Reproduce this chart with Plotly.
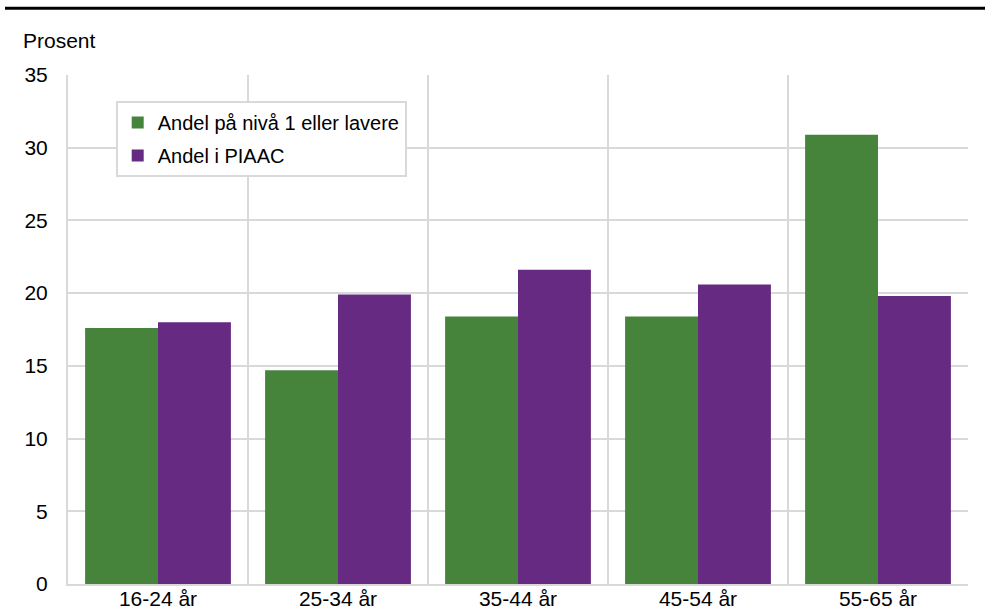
import plotly.graph_objects as go

# Age groups and shares (percent)
categories = ["16-24 år", "25-34 år", "35-44 år", "45-54 år", "55-65 år"]
level1_or_lower = [17.6, 14.7, 18.4, 18.4, 30.9]
piaac_share = [18.0, 19.9, 21.6, 20.6, 19.8]
y_ticks = [0, 5, 10, 15, 20, 25, 30, 35]

GREEN = "#46843c"
PURPLE = "#662a82"
GRID = "#d9d9d9"
FONT = "Liberation Sans, Arial, sans-serif"
FS = 21
FS_LEGEND = 20

x_pos = list(range(len(categories)))
boundaries = [i - 0.5 for i in range(len(categories) + 1)]

fig = go.Figure()
fig.add_trace(go.Bar(
    x=x_pos, y=level1_or_lower, name="Andel på nivå 1 eller lavere",
    marker=dict(color=GREEN, line=dict(width=0)), legendgroup="a",
))
fig.add_trace(go.Bar(
    x=x_pos, y=piaac_share, name="Andel i PIAAC",
    marker=dict(color=PURPLE, line=dict(width=0)), legendgroup="b",
))
# invisible trace carrying the category labels on the overlay axis
fig.add_trace(go.Scatter(x=x_pos, y=[0] * len(x_pos), xaxis="x2",
                         mode="markers", marker=dict(opacity=0),
                         showlegend=False, hoverinfo="skip"))

fig.update_layout(
    width=985, height=613,
    paper_bgcolor="white", plot_bgcolor="white",
    margin=dict(l=68, r=17, t=75, b=29),
    barmode="group", bargap=0.19, bargroupgap=0,
    font=dict(family=FONT, size=FS, color="#000000"),
    xaxis=dict(
        range=[-0.5, len(categories) - 0.5],
        tickvals=boundaries, ticktext=[""] * len(boundaries),
        showgrid=True, gridcolor=GRID, gridwidth=2,
        showline=True, linecolor=GRID, linewidth=2,
        ticks="", zeroline=False, automargin=False,
    ),
    xaxis2=dict(
        overlaying="x", matches="x", side="bottom",
        tickvals=x_pos, ticktext=categories,
        showgrid=False, showline=False, ticks="", zeroline=False,
        tickfont=dict(family=FONT, size=FS, color="#000000"),
        ticklabelstandoff=0, automargin=False,
    ),
    yaxis=dict(
        range=[0, 35], tickvals=y_ticks,
        showgrid=True, gridcolor=GRID, gridwidth=2,
        zeroline=False, showline=True, linecolor=GRID, linewidth=2,
        ticks="", ticklen=0, tickfont=dict(family=FONT, size=FS, color="#000000"),
        ticklabelstandoff=14, automargin=False,
    ),
    legend=dict(
        x=0.053, y=0.949, xanchor="left", yanchor="top",
        bgcolor="white", bordercolor=GRID, borderwidth=2,
        font=dict(family=FONT, size=FS_LEGEND, color="#000000"),
        traceorder="grouped", tracegroupgap=4,
        itemwidth=30,
    ),
    shapes=[dict(type="line", xref="paper", yref="paper",
                 x0=-0.07, x1=1.019, y0=1.131, y1=1.131,
                 line=dict(color="#000000", width=3))],
    annotations=[dict(text="Prosent", xref="paper", yref="paper",
                      x=-0.052, y=1.042, xanchor="left", yanchor="bottom",
                      showarrow=False, font=dict(family=FONT, size=FS, color="#000000"))],
)

fig.write_html("out.html")
